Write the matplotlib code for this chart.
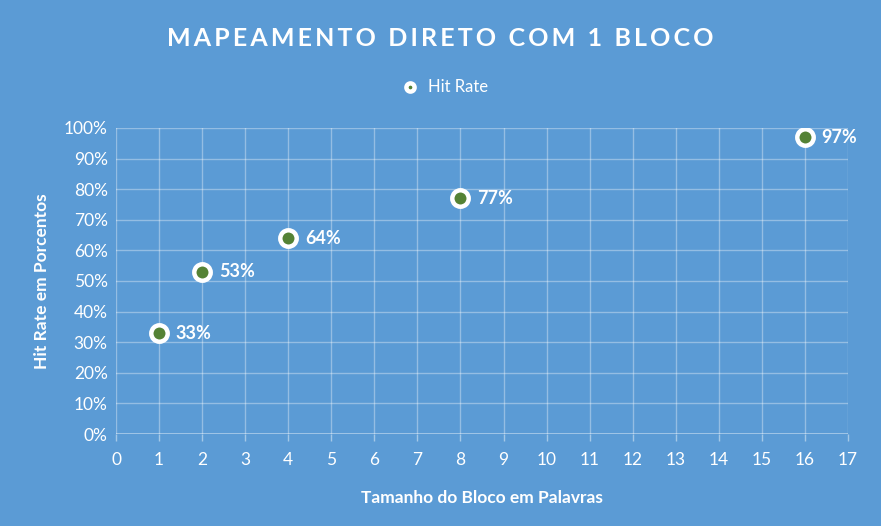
import matplotlib
matplotlib.use("Agg")
import matplotlib.pyplot as plt
from matplotlib.ticker import PercentFormatter, MultipleLocator

# data
block_sizes = [1, 2, 4, 8, 16]
hit_rates = [0.33, 0.53, 0.64, 0.77, 0.97]
point_labels = ["33%", "53%", "64%", "77%", "97%"]

bg = "#5B9BD5"
plt.rcParams["font.family"] = ["Lato", "DejaVu Sans"]

fig = plt.figure(figsize=(8.81, 5.26), dpi=100, facecolor=bg)
ax = fig.add_axes([0.1317, 0.1749, 0.8308, 0.5818], facecolor=bg)

ax.scatter(block_sizes, hit_rates, s=140, color="#548235", edgecolors="white",
           linewidths=3.2, zorder=3, label="Hit Rate")
for x, y, lab in zip(block_sizes, hit_rates, point_labels):
    ax.annotate(lab, (x, y), xytext=(12, 0), textcoords="offset points",
                va="center", ha="left", color="white", fontsize=13, fontweight="bold")

ax.set_xlim(0, 17)
ax.set_ylim(0, 1.0)
ax.xaxis.set_major_locator(MultipleLocator(1))
ax.yaxis.set_major_locator(MultipleLocator(0.1))
ax.yaxis.set_major_formatter(PercentFormatter(1.0, decimals=0))
ax.grid(True, color="white", alpha=0.35, linewidth=1)
ax.set_axisbelow(True)
for s in ax.spines.values():
    s.set_visible(False)
ax.axhline(0, color="white", alpha=0.45, linewidth=1.2, zorder=1)
ax.tick_params(axis="x", colors="white", labelsize=12.5, length=5, width=1, pad=8,
               color=(1, 1, 1, 0.45))
ax.tick_params(axis="y", colors="white", labelsize=12.5, length=0, pad=6)

ax.set_xlabel("Tamanho do Bloco em Palavras", color="white", fontsize=12.5,
              fontweight="bold", labelpad=16)
ax.set_ylabel("Hit Rate em Porcentos", color="white", fontsize=12.5,
              fontweight="bold", labelpad=10)

title = "MAPEAMENTO DIRETO COM 1 BLOCO"
spaced = "\u2009".join(title).replace("\u2009 \u2009", "\u2009\u2009 ")
fig.text(0.5, 0.927, spaced, ha="center", va="center", color="white",
         fontsize=18, fontweight="bold")

leg = fig.legend(loc="center", bbox_to_anchor=(0.5, 0.835), frameon=False,
                 labelcolor="white", fontsize=12, handletextpad=0.1,
                 markerscale=0.5)

fig.savefig("out.png", dpi=100, facecolor=bg)
